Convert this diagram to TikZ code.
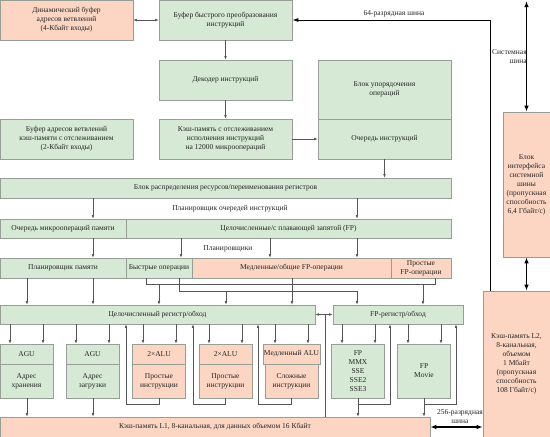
\documentclass[tikz,border=0pt]{standalone}
\usepackage{fontspec}
\setmainfont{Liberation Serif}
\usepackage{xcolor}
\usetikzlibrary{arrows.meta}

\definecolor{grnfill}{RGB}{213,233,212}
\definecolor{orfill}{RGB}{252,214,195}
\definecolor{boxline}{RGB}{150,158,150}
\definecolor{wirecol}{RGB}{85,85,85}

\tikzset{
  blk/.style={draw=boxline, line width=0.6pt, inner sep=1pt, align=center, text=black!85, font=\fontsize{7.5}{9}\selectfont},
  gbox/.style={blk, fill=grnfill},
  obox/.style={blk, fill=orfill},
  lbl/.style={inner sep=0pt, align=center, text=black!85, font=\fontsize{7.5}{9}\selectfont},
  bus/.style={line width=1pt, black, -{Latex[length=6pt,width=4pt]}},
  bigbus/.style={line width=1.3pt, black, {Latex[length=6pt,width=4.5pt]}-{Latex[length=6pt,width=4.5pt]}},
}

\begin{document}
\begin{tikzpicture}[x=1pt, y=-1pt, color=wirecol, line width=0.6pt, >={Latex[length=3.5pt,width=2.6pt]}]
	\useasboundingbox (0,0) rectangle (550,437);
	% front end
	\node[obox, minimum width=133pt, minimum height=40pt] (dynbuf) at (66.5,20) {Динамический буфер\\адресов ветвлений\\(4-Кбайт входы)};
	\node[gbox, minimum width=133pt, minimum height=40pt] (fastbuf) at (225.5,20) {Буфер быстрого преобразования\\инструкций};
	\node[gbox, minimum width=133pt, minimum height=40pt] (decoder) at (225.5,80) {Декодер инструкций};
	\node[gbox, minimum width=133pt, minimum height=40pt] (tracecache) at (225.5,139) {Кэш-память с отслеживанием\\исполнения инструкций\\на 12000 микроопераций};
	\node[gbox, minimum width=133pt, minimum height=40pt] (btb) at (66.5,139) {Буфер адресов ветвлений\\кэш-памяти с отслеживанием\\(2-Кбайт входы)};
	\node[gbox, minimum width=133pt, minimum height=59pt] (reorder) at (384.5,89.5) {Блок упорядочения\\операций};
	\node[gbox, minimum width=133pt, minimum height=40pt] (iqueue) at (384.5,139) {Очередь инструкций};
	% allocation, queues, schedulers
	\node[gbox, minimum width=451pt, minimum height=20pt] (resalloc) at (225.5,188) {Блок распределения ресурсов/переименования регистров};
	\node[lbl] (qlabel) at (230,209) {Планировщик очередей инструкций};
	\node[gbox, minimum width=126pt, minimum height=19pt] (memqueue) at (63,228.5) {Очередь микроопераций памяти};
	\node[gbox, minimum width=325pt, minimum height=19pt] (intfpqueue) at (288.5,228.5) {Целочисленные/с плавающей запятой (FP)};
	\node[lbl] (slabel) at (228,249) {Планировщики};
	\node[gbox, minimum width=126pt, minimum height=20pt] (memsched) at (63,268) {Планировщик памяти};
	\node[gbox, minimum width=66pt, minimum height=20pt] (fastops) at (159,268) {Быстрые операции};
	\node[obox, minimum width=199pt, minimum height=20pt] (slowops) at (291.5,268) {Медленные/общие FP-операции};
	\node[obox, minimum width=60pt, minimum height=20pt] (simplefp) at (421,268) {Простые\\FP-операции};
	% register files
	\node[gbox, minimum width=315pt, minimum height=19pt] (intreg) at (157.5,314.5) {Целочисленный регистр/обход};
	\node[gbox, minimum width=130pt, minimum height=19pt] (fpreg) at (398,314.5) {FP-регистр/обход};
	% execution units
	\node[gbox, minimum width=53pt, minimum height=20pt] (agu1) at (26.5,354) {AGU};
	\node[gbox, minimum width=53pt, minimum height=34pt] (agu1b) at (26.5,381) {Адрес\\хранения};
	\node[gbox, minimum width=53pt, minimum height=20pt] (agu2) at (92.5,354) {AGU};
	\node[gbox, minimum width=53pt, minimum height=34pt] (agu2b) at (92.5,381) {Адрес\\загрузки};
	\node[obox, minimum width=53pt, minimum height=20pt] (alu1) at (159,354) {2×ALU};
	\node[obox, minimum width=53pt, minimum height=34pt] (alu1b) at (159,381) {Простые\\инструкции};
	\node[obox, minimum width=53pt, minimum height=20pt] (alu2) at (225.5,354) {2×ALU};
	\node[obox, minimum width=53pt, minimum height=34pt] (alu2b) at (225.5,381) {Простые\\инструкции};
	\node[obox, minimum width=53pt, minimum height=20pt] (slowalu) at (291.5,354) {Медленный ALU};
	\node[obox, minimum width=53pt, minimum height=34pt] (slowalub) at (291.5,381) {Сложные\\инструкции};
	\node[gbox, minimum width=53pt, minimum height=54pt] (fpmmx) at (358,371) {FP\\MMX\\SSE\\SSE2\\SSE3};
	\node[gbox, minimum width=53pt, minimum height=54pt] (fpmovie) at (424,371) {FP\\Movie};
	% caches and bus interface
	\node[obox, minimum width=430pt, minimum height=20pt] (l1) at (215,427) {Кэш-память L1, 8-канальная, для данных объемом 16 Кбайт};
	\node[obox, minimum width=67pt, minimum height=146pt] (l2) at (516.5,364) {Кэш-память L2,\\8-канальная,\\объемом\\1 Мбайт\\(пропускная\\способность\\108 Гбайт/с)};
	\node[obox, minimum width=47pt, minimum height=145pt] (busif) at (526.5,184.5) {Блок\\интерфейса\\системной\\шины\\(пропускная\\способность\\6,4 Гбайт/с)};
	\node[lbl] (bus64) at (394,14) {64-разрядная шина};
	\node[lbl, anchor=east, align=right] (sysbus) at (527,57) {Системная\\шина};
	\node[lbl] (bus256) at (460,417) {256-разрядная\\шина};

	% front end flow
	\draw[<->] (dynbuf) -- (fastbuf);
	\draw[->] (fastbuf) -- (decoder);
	\draw[->] (decoder) -- (tracecache);
	\draw[->] (tracecache) -- (iqueue);
	\draw[->] (iqueue) -- (resalloc.north -| iqueue);
	\draw[->] (resalloc.south -| 93,0) -- (memqueue.north -| 93,0);
	\draw[->] (resalloc.south -| 357,0) -- (intfpqueue.north -| 357,0);
	\draw[->] (memqueue.south -| 93,0) -- (memsched.north -| 93,0);
	\draw[->] (intfpqueue.south -| 181,0) -- (fastops.north -| 181,0);
	\draw[->] (intfpqueue.south -| 270,0) -- (slowops.north -| 270,0);
	\draw[->] (intfpqueue.south -| 357,0) -- (slowops.north -| 357,0);
	% schedulers to register files
	\coordinate (busa) at (0,284);
	\coordinate (busb) at (0,291);
	\draw[->] (memsched.south -| 27,0) -- (intreg.north -| 27,0);
	\draw[->] (memsched.south -| 93,0) -- (intreg.north -| 93,0);
	\draw (fastops.south -| 146,0) -- (busa -| 146,0) -- (busa -| 435,0) -- (simplefp.south -| 435,0);
	\draw[->] (busa -| 159,0) -- (intreg.north -| 159,0);
	\draw[->] (busa -| 423,0) -- (fpreg.north -| 423,0);
	\draw[->] (fastops.south -| 179,0) -- (busb -| 179,0) -- (busb -| 357,0) -- (fpreg.north -| 357,0);
	\draw[->] (busb -| 226,0) -- (intreg.north -| 226,0);
	\draw[->] (slowops.south -| 292,0) -- (intreg.north -| 292,0);
	\draw[<->] (intreg) -- (fpreg);
	\draw (l1.north -| 325,0) -- (intreg -| 325,0);
	% register files to units
	\draw[->] (intreg.south -| 10,0) -- (agu1.north -| 10,0);
	\draw[->] (intreg.south -| 43,0) -- (agu1.north -| 43,0);
	\draw[->] (intreg.south -| 76,0) -- (agu2.north -| 76,0);
	\draw[->] (intreg.south -| 109,0) -- (agu2.north -| 109,0);
	\draw[->] (intreg.south -| 143,0) -- (alu1.north -| 143,0);
	\draw[->] (intreg.south -| 176,0) -- (alu1.north -| 176,0);
	\draw[->] (intreg.south -| 209,0) -- (alu2.north -| 209,0);
	\draw[->] (intreg.south -| 242,0) -- (alu2.north -| 242,0);
	\draw[->] (intreg.south -| 275,0) -- (slowalu.north -| 275,0);
	\draw[->] (intreg.south -| 308,0) -- (slowalu.north -| 308,0);
	\draw[->] (fpreg.south -| 342,0) -- (fpmmx.north -| 342,0);
	\draw[->] (fpreg.south -| 375,0) -- (fpmmx.north -| 375,0);
	\draw[->] (fpreg.south -| 408,0) -- (fpmovie.north -| 408,0);
	\draw[->] (fpreg.south -| 441,0) -- (fpmovie.north -| 441,0);
	% results back and to L1
	\draw[->] (alu1b.south) -- ++(0,6) -| (intreg.south -| 126,0);
	\draw[->] (alu2b.south) -- ++(0,6) -| (intreg.south -| 193,0);
	\draw[->] (slowalub.south) -- ++(0,6) -| (intreg.south -| 258,0);
	\draw[->] (fpmmx.south) ++(0,6) -| (fpreg.south -| 390,0);
	\draw[->] (fpmovie.south) ++(0,6) -| (fpreg.south -| 456,0);
	\draw[->] (agu1b.south -| 27,0) -- (l1.north -| 27,0);
	\draw[->] (agu2b.south -| 93,0) -- (l1.north -| 93,0);
	\draw[->] (fpmmx.south) -- (l1.north -| fpmmx);
	\draw[->] (fpmovie.south) -- (l1.north -| fpmovie);
	% buses
	\draw[bus] (l2.north -| 490,0) |- (fastbuf.east);
	\draw[bigbus] (busif.north) -- (busif.north |- 0,1);
	\draw[bigbus] (busif.south) -- (l2.north -| busif);
	\draw[bigbus] (l1.east) -- (l2.west |- l1.east);
\end{tikzpicture}
\end{document}
